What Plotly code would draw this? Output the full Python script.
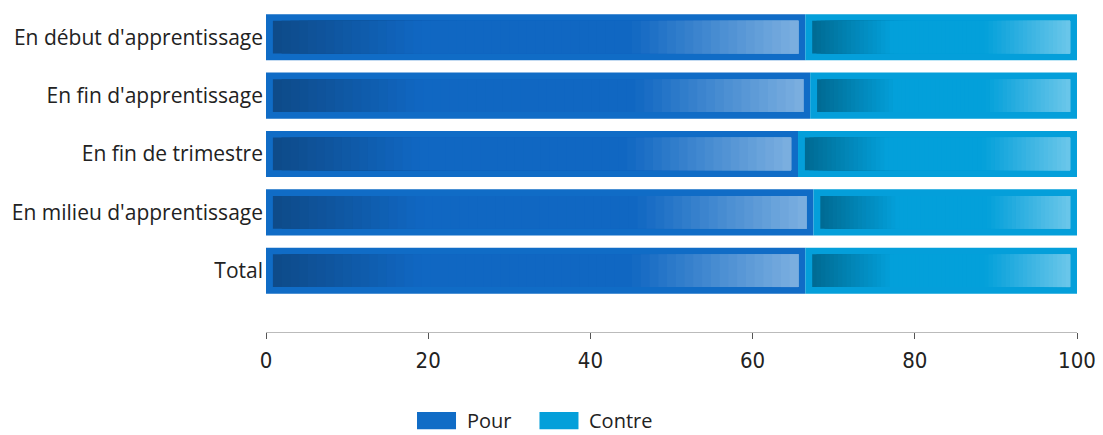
import plotly.graph_objects as go

categories = ["En début d'apprentissage", "En fin d'apprentissage", "En fin de trimestre",
              "En milieu d'apprentissage", "Total"]
pour = [66.5, 67.1, 65.6, 67.5, 66.5]
contre = [33.5, 32.9, 34.4, 32.5, 33.5]
tick_vals = [0, 20, 40, 60, 80, 100]
series_names = ["Pour", "Contre"]

POUR_BORDER = "#106CC6"
CONTRE_BORDER = "#049FDA"
POUR_STOPS = [(0.0, "#0E4A88"), (0.28, "#1067C2"), (0.68, "#1067C2"), (1.0, "#7DB0E0")]
CONTRE_STOPS = [(0.0, "#006A92"), (0.31, "#03A0DA"), (0.67, "#03A0DA"), (1.0, "#6CC7EA")]
FONT = "Open Sans"
TICK_FONT = "Liberation Sans Narrow, DejaVu Sans Condensed, Roboto, sans-serif"


def hex2rgb(h):
    h = h.lstrip("#")
    return tuple(int(h[i:i + 2], 16) for i in (0, 2, 4))


def grad_color(stops, t):
    for (t0, c0), (t1, c1) in zip(stops[:-1], stops[1:]):
        if t <= t1:
            f = 0 if t1 == t0 else (t - t0) / (t1 - t0)
            a, b = hex2rgb(c0), hex2rgb(c1)
            return "rgb(%d,%d,%d)" % tuple(round(a[i] + (b[i] - a[i]) * f) for i in range(3))
    return stops[-1][1]


fig = go.Figure()

# outer (border) bars
pour_base = [0] * len(pour)
contre_base = list(pour)
fig.add_trace(go.Bar(y=categories, x=pour, base=pour_base, orientation="h", width=0.79,
                     name=series_names[0],
                     marker=dict(color=POUR_BORDER, line=dict(width=0)), showlegend=False))
fig.add_trace(go.Bar(y=categories, x=contre, base=contre_base, orientation="h", width=0.79,
                     name=series_names[1],
                     marker=dict(color=CONTRE_BORDER, line=dict(width=0)), showlegend=False))

# inner gradient fill, derived from the data values
N = 60
INSET = 0.85
for vals, bases, stops in ((pour, pour_base, POUR_STOPS), (contre, contre_base, CONTRE_STOPS)):
    ys, xs, bs, cols = [], [], [], []
    for cat, v, b in zip(categories, vals, bases):
        start = b + INSET
        end = b + v - INSET
        span = end - start
        for k in range(N):
            s = start + span * k / N
            ys.append(cat)
            bs.append(s)
            xs.append(end - s)
            cols.append(grad_color(stops, (k + 0.5) / N))
    fig.add_trace(go.Bar(y=ys, x=xs, base=bs, orientation="h", width=0.56,
                         marker=dict(color=cols, line=dict(width=0)), showlegend=False,
                         hoverinfo="skip"))

# legend (swatches + labels) below the axis
legend_items = [(series_names[0], POUR_BORDER, 0.1862), (series_names[1], CONTRE_BORDER, 0.3372)]
for name, col, x0 in legend_items:
    fig.add_shape(type="rect", xref="paper", yref="paper", x0=x0, x1=x0 + 0.0481,
                  y0=-0.300, y1=-0.247, fillcolor=col, line=dict(width=0))
    fig.add_annotation(xref="paper", yref="paper", x=x0 + 0.0481 + 0.011, y=-0.274,
                       text=name, showarrow=False, xanchor="left", yanchor="middle",
                       font=dict(family=FONT, size=20, color="#222222"))

fig.update_layout(
    width=1103, height=435,
    margin=dict(l=266, r=26, t=8, b=103),
    barmode="overlay",
    showlegend=False,
    plot_bgcolor="white", paper_bgcolor="white",
    font=dict(family=FONT, size=20, color="#222222"),
    xaxis=dict(range=[0, 100], tickvals=tick_vals, showgrid=False, zeroline=False,
               showline=True, linecolor="#BBBBBB", linewidth=1, ticks="outside",
               ticklen=6, tickcolor="#555555", ticklabelstandoff=3,
               tickfont=dict(family=TICK_FONT, size=22, color="#222222"),
               fixedrange=True),
    yaxis=dict(categoryorder="array", categoryarray=categories, range=[5.05, -0.5],
               showgrid=False, zeroline=False, showline=False, ticks="",
               ticklabelstandoff=2, fixedrange=True,
               tickfont=dict(family=FONT, size=21, color="#222222")),
)

fig.write_html("out.html", post_script="document.body.style.margin='0';",
               config={"displayModeBar": False})
